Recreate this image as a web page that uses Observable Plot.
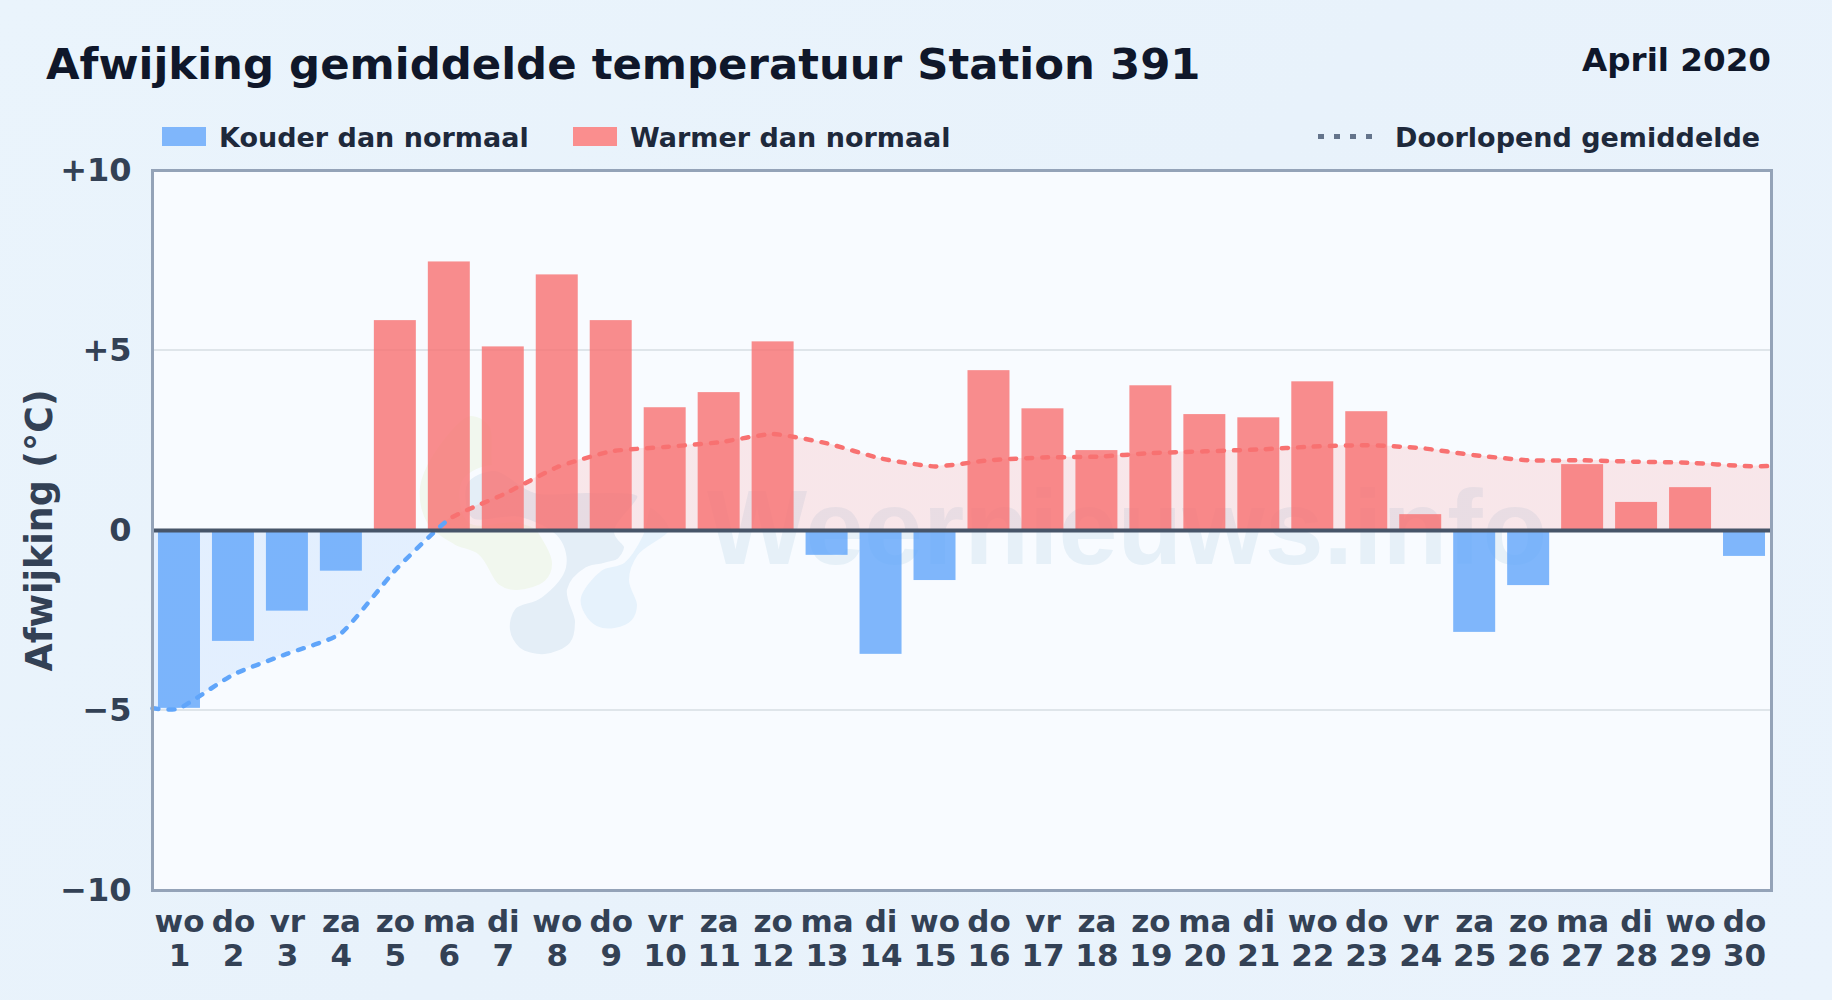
<!DOCTYPE html>
<html lang="nl">
<head>
<meta charset="utf-8">
<script src="https://cdn.jsdelivr.net/npm/d3@7"></script>
<script src="https://cdn.jsdelivr.net/npm/@observablehq/plot@0.6"></script>
<style>
  html, body { margin: 0; padding: 0; }
  body { width: 1832px; height: 1000px; overflow: hidden; position: relative;
         font-family: "DejaVu Sans", sans-serif; font-weight: bold;
         background: linear-gradient(135deg, #eaf4fc 0%, #e8f2fb 50%, #eaf3fc 100%); }
  .abs { position: absolute; white-space: nowrap; line-height: 1; }
  #title { left: 46px; top: 43px; font-size: 43.4px; color: #0f172a; }
  #period { right: 61px; top: 44px; font-size: 32.6px; color: #0f172a; }
  .legend { top: 124px; font-size: 27px; color: #1e293b; }
  .swatch { top: 127px; width: 44px; height: 19px; }
  #panel { left: 152px; top: 170px; width: 1619px; height: 720px; background: #f8fbff; overflow: hidden; }
  #panel svg { position: absolute; left: 0; top: 0; }
  #wm { left: 555px; top: 304px; font-family: "Liberation Sans", sans-serif; font-size: 106px; color: #e6f0f8; }
  #chart { position: absolute; left: 0; top: 140px; }
</style>
</head>
<body>
<div id="panel" class="abs">
  <svg id="logo" width="1619" height="720"></svg>
  <div id="wm" class="abs">Weernieuws.info</div>
</div>
<div id="chart"></div>
<div id="title" class="abs">Afwijking gemiddelde temperatuur Station 391</div>
<div id="period" class="abs">April 2020</div>
<div class="abs swatch" style="left:162px;background:#7fb6fb"></div>
<div class="abs legend" style="left:219px">Kouder dan normaal</div>
<div class="abs swatch" style="left:573px;background:#fa8e8e"></div>
<div class="abs legend" style="left:630px">Warmer dan normaal</div>
<svg class="abs" style="left:1318px;top:130px" width="56" height="12"><line x1="0" x2="56" y1="6.5" y2="6.5" stroke="#64748b" stroke-width="5" stroke-dasharray="6,10"/></svg>
<div class="abs legend" style="left:1395px">Doorlopend gemiddelde</div>
<script>
const days = d3.range(1, 31);
const weekdays = ["wo","do","vr","za","zo","ma","di","wo","do","vr","za","zo","ma","di","wo","do","vr","za","zo","ma","di","wo","do","vr","za","zo","ma","di","wo","do"];
const anomalies = [-4.94,-3.08,-2.24,-1.13,5.83,7.46,5.1,7.1,5.83,3.41,3.83,5.24,-0.69,-3.44,-1.39,4.44,3.38,2.22,4.02,3.22,3.13,4.13,3.3,0.44,-2.83,-1.53,1.83,0.78,1.19,-0.72];
const runningMean = [-4.94,-4.0,-3.42,-2.85,-1.1,0.32,1.0,1.76,2.2,2.32,2.45,2.68,2.42,2.0,1.78,1.95,2.03,2.05,2.15,2.2,2.25,2.33,2.37,2.29,2.09,1.95,1.95,1.91,1.88,1.79];
const yTicks = [-10,-5,0,5,10];
const yTickLabels = ["\u221210","\u22125","0","+5","+10"];

const bars = days.map((day, i) => ({day, value: anomalies[i]}));
const mean = [
  {day: 0.5, value: runningMean[0]},
  ...days.map((day, i) => ({day, value: runningMean[i]})),
  {day: 30.5, value: runningMean[runningMean.length - 1]}
];
const halfBar = 0.389;

// Watermark logo, drawn behind the chart
const blob = d3.line().curve(d3.curveCatmullRomClosed.alpha(0.5));
const logo = d3.select("#logo");
const place = pts => blob(pts.map(([x, y]) => [x - 152, y - 170]));
[
  ["#f1f7ee", [[470,413],[492,425],[497,475],[540,530],[555,563],[547,583],[517,593],[497,587],[477,557],[453,547],[425,525],[417,487],[440,440]]],
  ["#e4eef7", [[465,482],[495,468],[535,490],[590,490],[640,495],[617,532],[627,547],[617,563],[587,570],[570,590],[578,622],[572,645],[545,657],[518,650],[507,630],[513,607],[540,595],[563,567],[557,540],[520,520],[470,520]]],
  ["#e6f2fc", [[578,597],[582,615],[596,629],[615,631],[634,622],[640,605],[632,580],[640,557],[672,530],[650,505],[640,535],[623,560],[600,568]]]
].forEach(([fill, pts]) => {
  logo.append("path").attr("d", place(pts)).attr("fill", fill).attr("stroke", "#f8fbff").attr("stroke-width", 6);
});

const gradients = (index, {x, y}) => {
  const defs = d3.create("svg:defs");
  const area = defs.append("linearGradient").attr("id", "areaFill").attr("gradientUnits", "userSpaceOnUse")
    .attr("x1", 0).attr("x2", 0).attr("y1", y(10)).attr("y2", y(-10));
  [[0, "#f87171", .15], [.5, "#f87171", .15], [.5, "#60a5fa", .14], [1, "#60a5fa", .14]].forEach(([o, c, a]) =>
    area.append("stop").attr("offset", o).attr("stop-color", c).attr("stop-opacity", a));
  const line = defs.append("linearGradient").attr("id", "lineStroke").attr("gradientUnits", "userSpaceOnUse")
    .attr("x1", x(0.5)).attr("x2", x(30.5)).attr("y1", 0).attr("y2", 0);
  const t = (x(6) - x(0.5)) / (x(30.5) - x(0.5));
  [[0, "#60a5fa"], [t, "#60a5fa"], [t, "#f87171"], [1, "#f87171"]].forEach(([o, c]) =>
    line.append("stop").attr("offset", o).attr("stop-color", c));
  return defs.node();
};

const meanCurve = {curve: "cardinal", tension: 0.5};

const chart = Plot.plot({
  width: 1832,
  height: 860,
  marginLeft: 152,
  marginRight: 61,
  marginTop: 30,
  marginBottom: 110,
  style: {background: "transparent", fontFamily: "DejaVu Sans, sans-serif", overflow: "visible"},
  x: {type: "linear", domain: [0.5, 30.5]},
  y: {domain: [-10, 10]},
  marks: [
    gradients,
    Plot.ruleY([-5, 5], {stroke: "#dfe5ea", strokeWidth: 2, dy: -0.5}),
    Plot.areaY(mean, {x: "day", y1: 0, y2: "value", ...meanCurve, fill: "url(#areaFill)"}),
    Plot.rectY(bars.filter(d => d.value < 0), {x1: d => d.day - halfBar, x2: d => d.day + halfBar, y1: 0, y2: "value", fill: "#60a5fa", fillOpacity: 0.8}),
    Plot.rectY(bars.filter(d => d.value >= 0), {x1: d => d.day - halfBar, x2: d => d.day + halfBar, y1: 0, y2: "value", fill: "#f87171", fillOpacity: 0.8}),
    Plot.lineY(mean, {x: "day", y: "value", ...meanCurve, stroke: "url(#lineStroke)", strokeWidth: 4.5, strokeDasharray: "6,10", strokeLinecap: "round"}),
    Plot.ruleY([0], {stroke: "#475569", strokeWidth: 4}),
    Plot.frame({stroke: "#94a3b8", strokeWidth: 3}),
    Plot.axisY({
      ticks: yTicks, tickSize: 0, tickPadding: 21, label: null,
      tickFormat: v => yTickLabels[yTicks.indexOf(v)],
      fontSize: 32, fontWeight: "bold", fill: "#334155"
    }),
    Plot.axisY({
      ticks: [], tickSize: 0, label: "Afwijking (°C)", labelAnchor: "center", labelArrow: "none",
      labelOffset: 126, fontSize: 36.4, fontWeight: "bold", fill: "#334155"
    }),
    Plot.axisX({
      ticks: days, tickSize: 0, tickPadding: 17, label: null,
      tickFormat: d => weekdays[d - 1] + "\n" + d,
      fontSize: 31, fontWeight: "bold", fill: "#334155", lineHeight: 1.1
    })
  ]
});
document.getElementById("chart").append(chart);
</script>
</body>
</html>
